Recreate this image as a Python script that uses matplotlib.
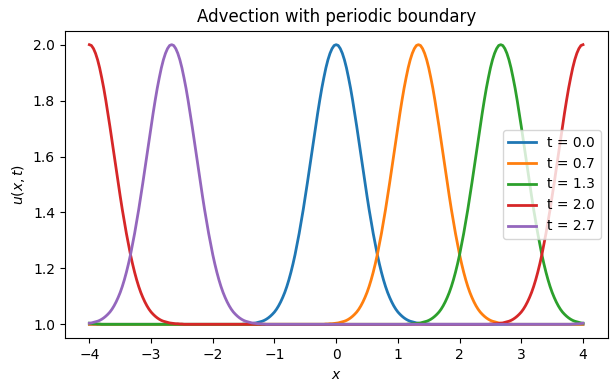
import numpy as np
import matplotlib
matplotlib.use("Agg")
import matplotlib.pyplot as plt

# Time labels of the snapshots
times = [0.0, 0.7, 1.3, 2.0, 2.7]
# Pulse centre for each snapshot, as an index on the 241-point grid over [-4, 4]
center_idx = [120, 160, 200, 240, 40]
n_intervals = 240
x_min, x_max = -4.0, 4.0
# Pulse profile: u at grid offsets 0,1,2,... steps (step = 1/30) from the centre
profile = [2.000, 1.997, 1.986, 1.969, 1.946, 1.917, 1.882, 1.844, 1.801, 1.755,
           1.707, 1.657, 1.607, 1.556, 1.506, 1.458, 1.411, 1.367, 1.325, 1.286,
           1.249, 1.216, 1.186, 1.159, 1.135, 1.114, 1.096, 1.080, 1.066, 1.054,
           1.044, 1.036, 1.029, 1.023, 1.018, 1.014, 1.011, 1.009, 1.007, 1.005,
           1.004, 1.003, 1.002, 1.002, 1.001, 1.001]
baseline = 1.0

x = np.linspace(x_min, x_max, n_intervals + 1)
k = np.arange(n_intervals + 1)
prof = np.array(profile)

fig = plt.figure(figsize=(6.16, 3.91), dpi=100)
ax = fig.add_axes([0.105, 0.1348, 0.8815, 0.7867])
for t, c in zip(times, center_idx):
    d = np.abs(k - c)
    d = np.minimum(d, n_intervals - d)
    y = np.where(d < len(prof), prof[np.minimum(d, len(prof) - 1)], baseline)
    ax.plot(x, y, lw=2, label=f"t = {t:.1f}")

ax.set_title("Advection with periodic boundary")
ax.set_xlabel("$x$")
ax.set_ylabel("$u(x,t)$")
ax.legend(loc="center right")
fig.savefig("out.png", dpi=100)
